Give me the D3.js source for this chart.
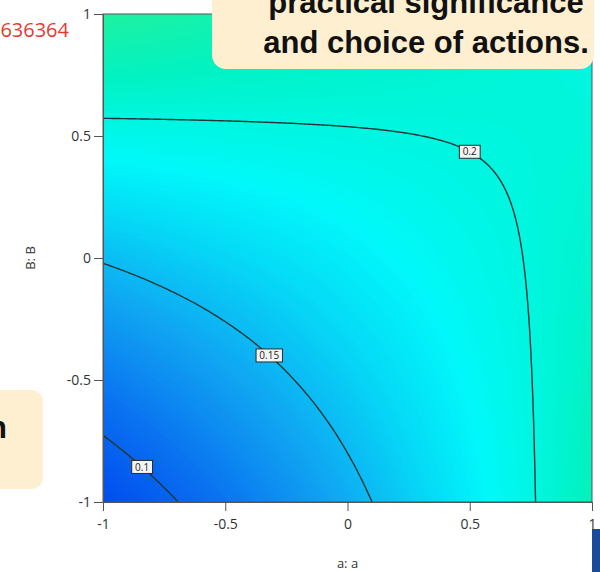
<!DOCTYPE html>
<html>
<head>
<meta charset="utf-8">
<script src="https://cdn.jsdelivr.net/npm/d3@7"></script>
<style>
  body { margin: 0; background: #fff; }
  svg { display: block; }
</style>
</head>
<body>
<svg id="chart"></svg>
<script>
// fitted 2FI model, response is sqrt-transformed: sqrt(y) = b0 + bA*a + bB*B + bAB*a*B
const modelTerms = ['Intercept', 'A', 'B', 'AB'];
const modelCoefs = [0.4231, 0.0336, 0.0448, -0.056];

// contour lines drawn and where their labels sit (a value)
const contourLevels = [0.1, 0.15, 0.2];
const contourLabelA = [-0.84, -0.32, 0.5];

const tickValues = [-1, -0.5, 0, 0.5, 1];

// colour ramp of the response
const colorValues = [0.08, 0.11, 0.14, 0.165, 0.185, 0.2, 0.215, 0.24];
const colorHexes = ['#0048ee', '#0a72f0', '#10a6f2', '#06d6f6', '#00f8fa', '#00f6e0', '#02f2c2', '#1ef2a0'];

const width = 600, height = 572;
const plot = {left: 103, right: 592, top: 14, bottom: 502};

const svg = d3.select('#chart')
    .attr('width', width)
    .attr('height', height)
    .style('font-family', '"Open Sans", "Noto Sans", sans-serif');

const x = d3.scaleLinear().domain([-1, 1]).range([plot.left, plot.right]);
const y = d3.scaleLinear().domain([-1, 1]).range([plot.bottom, plot.top]);
const color = d3.scaleLinear().domain(colorValues).range(colorHexes).clamp(true);

function response(a, b) {
  const s = modelCoefs[0] + modelCoefs[1] * a + modelCoefs[2] * b + modelCoefs[3] * a * b;
  return s * s;
}

// grid a bit wider than the design space so contour edges fall outside the clip
const n = 241, lo = -1.1, step = 2.2 / (n - 1);
const grid = new Array(n * n);
for (let j = 0; j < n; j++) {
  for (let i = 0; i < n; i++) {
    grid[j * n + i] = response(lo + i * step, lo + j * step);
  }
}
const toPx = d3.geoTransform({
  point: function(px, py) {
    this.stream.point(x(lo + (px - 0.5) * step), y(lo + (py - 0.5) * step));
  }
});
const path = d3.geoPath(toPx);

svg.append('clipPath').attr('id', 'plot-clip')
  .append('rect')
    .attr('x', plot.left).attr('y', plot.top)
    .attr('width', plot.right - plot.left).attr('height', plot.bottom - plot.top);

const area = svg.append('g').attr('clip-path', 'url(#plot-clip)');

area.append('rect')
    .attr('x', plot.left).attr('y', plot.top)
    .attr('width', plot.right - plot.left).attr('height', plot.bottom - plot.top)
    .attr('fill', color(0.07));

const bandStep = 0.0015;
const bandThresholds = d3.range(0.07, 0.26, bandStep);
area.selectAll('path.band')
    .data(d3.contours().size([n, n]).thresholds(bandThresholds)(grid))
    .enter()
    .append('path')
    .attr('class', 'band')
    .attr('d', path)
    .attr('fill', d => color(d.value + bandStep / 2));

area.selectAll('path.line')
    .data(d3.contours().size([n, n]).thresholds(contourLevels)(grid))
    .enter()
    .append('path')
    .attr('class', 'line')
    .attr('d', path)
    .attr('fill', 'none')
    .attr('stroke', '#1c3636')
    .attr('stroke-width', 1.4);

// contour labels
contourLevels.forEach(function(level, k) {
  const a = contourLabelA[k];
  const b = (Math.sqrt(level) - modelCoefs[0] - modelCoefs[1] * a) / (modelCoefs[2] + modelCoefs[3] * a);
  const g = svg.append('g').attr('transform', 'translate(' + x(a) + ',' + y(b) + ')');
  const txt = String(level);
  const w = txt.length * 5.6 + 4;
  g.append('rect')
      .attr('x', -w / 2).attr('y', -6.5)
      .attr('width', w).attr('height', 13)
      .attr('fill', '#f4f4f4')
      .attr('stroke', '#2a2a2a')
      .attr('stroke-width', 1);
  g.append('text')
      .attr('text-anchor', 'middle')
      .attr('dy', '0.36em')
      .attr('font-size', 10)
      .attr('fill', '#222')
      .text(txt);
});

// frame
svg.append('rect')
    .attr('x', plot.left).attr('y', plot.top)
    .attr('width', plot.right - plot.left).attr('height', plot.bottom - plot.top)
    .attr('fill', 'none')
    .attr('stroke', '#555')
    .attr('stroke-width', 1);

const xAxis = svg.append('g')
    .attr('transform', 'translate(0,' + plot.bottom + ')')
    .call(d3.axisBottom(x).tickValues(tickValues).tickSize(9).tickSizeOuter(0).tickFormat(d => String(d)));
const yAxis = svg.append('g')
    .attr('transform', 'translate(' + plot.left + ',0)')
    .call(d3.axisLeft(y).tickValues(tickValues).tickSize(9).tickSizeOuter(0).tickFormat(d => String(d)));

[xAxis, yAxis].forEach(function(ax) {
  ax.attr('font-size', 14).attr('font-family', null);
  ax.selectAll('path, line').attr('stroke', '#555');
  ax.selectAll('text').attr('fill', '#333');
});
xAxis.selectAll('text').attr('dy', '1.1em');
yAxis.selectAll('text').attr('x', -12);

svg.append('text')
    .attr('x', (plot.left + plot.right) / 2)
    .attr('y', 568)
    .attr('text-anchor', 'middle')
    .attr('font-size', 13)
    .attr('fill', '#333')
    .text('a: a');

svg.append('text')
    .attr('transform', 'translate(35,' + y(0) + ') rotate(-90)')
    .attr('text-anchor', 'middle')
    .attr('font-size', 13)
    .attr('fill', '#333')
    .text('B: B');

// overlays from the slide this was captured on
svg.append('text')
    .attr('x', 69).attr('y', 37)
    .attr('text-anchor', 'end')
    .attr('font-size', 20)
    .attr('fill', '#e53935')
    .text('636364');

svg.append('rect')
    .attr('x', 212).attr('y', -20)
    .attr('width', 382).attr('height', 89)
    .attr('rx', 14)
    .attr('fill', '#fdefcf');

const note = svg.append('text')
    .attr('text-anchor', 'middle')
    .attr('font-size', 31)
    .attr('font-weight', 'bold')
    .attr('fill', '#111')
    .style('font-family', '"Liberation Sans", Arial, sans-serif');
note.append('tspan').attr('x', 426).attr('y', 13).text('practical significance');
note.append('tspan').attr('x', 426).attr('y', 53).text('and choice of actions.');

svg.append('rect')
    .attr('x', -20).attr('y', 390)
    .attr('width', 63).attr('height', 99)
    .attr('rx', 12)
    .attr('fill', '#fdefcf');
svg.append('text')
    .attr('x', 7).attr('y', 438)
    .attr('text-anchor', 'end')
    .attr('font-size', 31)
    .attr('font-weight', 'bold')
    .attr('fill', '#111')
    .style('font-family', '"Liberation Sans", Arial, sans-serif')
    .text('n');

svg.append('rect')
    .attr('x', 592).attr('y', 529)
    .attr('width', 8).attr('height', 43)
    .attr('fill', '#1a4a9a');
</script>
</body>
</html>
